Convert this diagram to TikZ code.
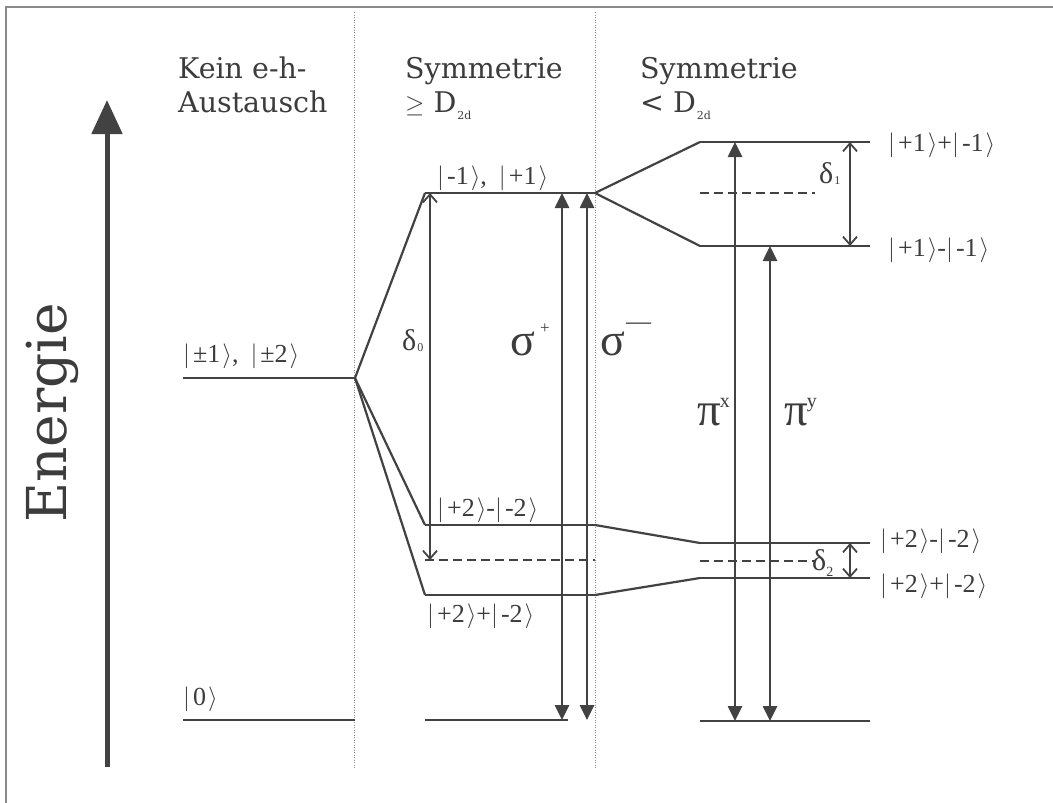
\documentclass[tikz,border=0pt]{standalone}
\usepackage{fontspec}
\setmainfont{DejaVu Serif}
\newfontfamily\tms{Liberation Serif}
\usetikzlibrary{arrows.meta}
\definecolor{ink}{HTML}{424242}
\definecolor{txt}{HTML}{3C3C3C}
\definecolor{framec}{HTML}{8A8A8A}
\definecolor{dotc}{HTML}{8C8C8C}
\newcommand\kt[1]{$|$\hspace{3pt}#1\hspace{2pt}$\rangle$}
\newcommand\hsub[1]{\hspace{1pt}{\fontsize{11}{11}\selectfont\raisebox{-7pt}{#1}}}
\newcommand\dsub[1]{\hspace{1pt}{\fontsize{12}{12}\selectfont\raisebox{-1pt}{#1}}}
\begin{document}
\begin{tikzpicture}[x=1pt,y=-1pt,
  lvl/.style={draw=ink,line width=2.8pt},
  dlvl/.style={draw=ink,line width=2pt,dash pattern=on 9pt off 5pt},
  fan/.style={draw=ink,line width=2.2pt},
  sep/.style={draw=dotc,line width=1pt,dash pattern=on 1pt off 1.5pt},
  bigarr/.style={draw=ink,line width=2.6pt,{Triangle[length=15pt,width=14pt]}-{Triangle[length=15pt,width=14pt]}},
  smallarr/.style={draw=ink,line width=1.8pt,{Straight Barb[length=8pt,width=14pt]}-{Straight Barb[length=8pt,width=14pt]}},
  hdr/.style={text=txt,font=\fontsize{28.5}{34}\selectfont,anchor=base west,inner sep=0pt},
  st/.style={text=txt,font=\tms\fontsize{26}{28}\selectfont,anchor=base west,inner sep=0pt},
  grk/.style={text=txt,anchor=base west,inner sep=0pt}]
\useasboundingbox (0,0) rectangle (1053,803);
% frame
\coordinate (F1) at (6,803); \coordinate (F2) at (6,7); \coordinate (F3) at (1053,7);
\draw[draw=framec,line width=1.5pt] (F1) -- (F2) -- (F3);
% separators
\coordinate (S1t) at (354,12); \coordinate (S1b) at (354,768);
\coordinate (S2t) at (595,12); \coordinate (S2b) at (595,768);
\draw[sep] (S1t) -- (S1b);
\draw[sep] (S2t) -- (S2b);
% energy axis
\coordinate (Eb) at (107,767); \coordinate (Et) at (107,100);
\draw[draw=ink,line width=5pt,-{Triangle[length=34pt,width=30pt]}] (Eb) -- (Et);
\node[text=txt,font=\fontsize{55}{55}\selectfont,rotate=90,inner sep=0pt] (energie) at (52,413) {Energie};
% headers
\node[hdr] (h1a) at (178,78) {Kein e-h-};
\node[hdr] (h1b) at (178,112) {Austausch};
\node[hdr] (h2a) at (405,78) {Symmetrie};
\node[hdr] (h2b) at (405,112) {$\geq$ D\hsub{2d}};
\node[hdr] (h3a) at (640,78) {Symmetrie};
\node[hdr] (h3b) at (640,112) {< D\hsub{2d}};
% levels left
\coordinate (L1a) at (183,378); \coordinate (L1b) at (355,378);
\coordinate (L0a) at (183,720); \coordinate (L0b) at (355,720);
\draw[lvl] (L1a) -- (L1b);
\draw[lvl] (L0a) -- (L0b);
% levels middle
\coordinate (M1a) at (425,193); \coordinate (M1b) at (595,193);
\coordinate (M2a) at (425,525); \coordinate (M2b) at (595,525);
\coordinate (M3a) at (425,595); \coordinate (M3b) at (595,595);
\coordinate (Mda) at (425,560); \coordinate (Mdb) at (595,560);
\coordinate (M0a) at (425,720); \coordinate (M0b) at (568,720);
\draw[lvl] (M1a) -- (M1b);
\draw[lvl] (M2a) -- (M2b);
\draw[lvl] (M3a) -- (M3b);
\draw[dlvl] (Mda) -- (Mdb);
\draw[lvl] (M0a) -- (M0b);
% levels right
\coordinate (R1a) at (700,142); \coordinate (R1b) at (870,142);
\coordinate (Rd1a) at (700,193); \coordinate (Rd1b) at (815,193);
\coordinate (R2a) at (700,246); \coordinate (R2b) at (870,246);
\coordinate (R3a) at (700,543); \coordinate (R3b) at (870,543);
\coordinate (Rd2a) at (700,561); \coordinate (Rd2b) at (815,561);
\coordinate (R4a) at (700,578); \coordinate (R4b) at (870,578);
\coordinate (R0a) at (700,721); \coordinate (R0b) at (870,721);
\draw[lvl] (R1a) -- (R1b);
\draw[dlvl] (Rd1a) -- (Rd1b);
\draw[lvl] (R2a) -- (R2b);
\draw[lvl] (R3a) -- (R3b);
\draw[dlvl] (Rd2a) -- (Rd2b);
\draw[lvl] (R4a) -- (R4b);
\draw[lvl] (R0a) -- (R0b);
% fans
\draw[fan] (M1a) -- (L1b) -- (M2a);
\draw[fan] (L1b) -- (M3a);
\draw[fan] (R1a) -- (M1b) -- (R2a);
\draw[fan] (M2b) -- (R3a);
\draw[fan] (M3b) -- (R4a);
% transition arrows
\coordinate (d0t) at (430,193); \coordinate (d0b) at (430,560);
\draw[smallarr] (d0t) -- (d0b);
\coordinate (spt) at (562,193); \coordinate (spb) at (562,720);
\draw[bigarr] (spt) -- (spb);
\coordinate (smt) at (587,193); \coordinate (smb) at (587,720);
\draw[bigarr] (smt) -- (smb);
\coordinate (pxt) at (735,142); \coordinate (pxb) at (735,721);
\draw[bigarr] (pxt) -- (pxb);
\coordinate (pyt) at (770,246); \coordinate (pyb) at (770,721);
\draw[bigarr] (pyt) -- (pyb);
\coordinate (d1t) at (850,142); \coordinate (d1b) at (850,246);
\draw[smallarr] (d1t) -- (d1b);
\coordinate (d2t) at (850,543); \coordinate (d2b) at (850,578);
\draw[smallarr] (d2t) -- (d2b);
% state labels
\node[st] (s1) at (183,362) {\kt{±1},\hspace{12pt}\kt{±2}};
\node[st] (s0) at (183,705) {\kt{0}};
\node[st] (s2) at (437,184) {\kt{-1},\hspace{12pt}\kt{+1}};
\node[st] (s3) at (437,516) {\kt{+2}-\kt{-2}};
\node[st] (s4) at (427,622) {\kt{+2}+\kt{-2}};
\node[st] (s5) at (888,151) {\kt{+1}+\kt{-1}};
\node[st] (s6) at (888,256) {\kt{+1}-\kt{-1}};
\node[st] (s7) at (880,547) {\kt{+2}-\kt{-2}};
\node[st] (s8) at (880,592) {\kt{+2}+\kt{-2}};
% greek labels
\node[grk,font=\tms\fontsize{30}{30}\selectfont] (ld0) at (402,350) {δ\dsub{0}};
\node[grk,font=\tms\fontsize{30}{30}\selectfont] (ld1) at (819,183) {δ\dsub{1}};
\node[grk,font=\tms\fontsize{30}{30}\selectfont] (ld2) at (812,570) {δ\raisebox{-6pt}{\fontsize{14}{14}\selectfont 2}};
\node[grk,font=\tms\fontsize{46}{46}\selectfont] (lsp) at (510,355) {σ\hspace{5pt}\raisebox{22pt}{\fontsize{17}{17}\selectfont +}};
\node[grk,font=\tms\fontsize{46}{46}\selectfont] (lsm) at (600,355) {σ\hspace{1pt}\raisebox{26pt}{\fontsize{25}{25}\selectfont —}};
\node[grk,font=\tms\fontsize{47}{47}\selectfont] (lpx) at (697,425) {π\hspace{-1pt}\raisebox{18pt}{\fontsize{20}{20}\selectfont x}};
\node[grk,font=\tms\fontsize{47}{47}\selectfont] (lpy) at (784,425) {π\hspace{-1pt}\raisebox{18pt}{\fontsize{20}{20}\selectfont y}};
\end{tikzpicture}
\end{document}
